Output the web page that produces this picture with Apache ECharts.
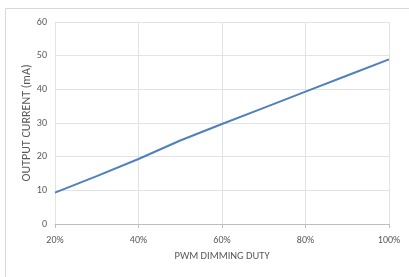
<!DOCTYPE html>
<html>
<head>
<meta charset="utf-8">
<script src="https://cdn.jsdelivr.net/npm/echarts@6/dist/echarts.min.js"></script>
<style>
  html, body { margin: 0; padding: 0; background: #fff; }
  #chart { width: 409px; height: 277px; }
</style>
</head>
<body>
<div id="chart"></div>
<script>
// PWM duty (%) and output current (mA)
const duty = [20, 30, 40, 50, 60, 70, 80, 90, 100];
const current = [9.3, 14.2, 19.3, 24.8, 29.7, 34.5, 39.3, 44.1, 48.9];
const dutyTicks = [20, 40, 60, 80, 100];

const chart = echarts.init(document.getElementById('chart'));
const textColor = '#595959';
const font = 'Carlito, "Liberation Sans", "Open Sans", sans-serif';

const option = {
  animation: false,
  graphic: [
    {
      // chart frame
      type: 'rect',
      shape: { x: 5.5, y: 8.5, width: 420, height: 300 },
      style: { fill: 'none', stroke: '#d9d9d9', lineWidth: 1 },
      silent: true,
    },
  ],
  grid: { left: 55, right: 20, top: 22, bottom: 53 },
  xAxis: {
    type: 'value',
    min: dutyTicks[0],
    max: dutyTicks[dutyTicks.length - 1],
    interval: 20,
    name: 'PWM DIMMING DUTY',
    nameLocation: 'middle',
    nameGap: 27,
    nameMoveOverlap: false,
    nameTextStyle: { color: textColor, fontSize: 10.5, fontFamily: font },
    axisLine: { show: true, lineStyle: { color: '#bfbfbf' } },
    axisTick: { show: true, length: 4, lineStyle: { color: '#bfbfbf' } },
    axisLabel: { color: textColor, fontSize: 10, fontFamily: font, margin: 11, formatter: '{value}%' },
    splitLine: { show: true, lineStyle: { color: '#e3e3e3' } },
  },
  yAxis: {
    type: 'value',
    min: 0,
    max: 60,
    interval: 10,
    name: 'OUTPUT CURRENT (mA)',
    nameLocation: 'middle',
    nameGap: 22,
    nameRotate: 90,
    nameMoveOverlap: false,
    nameTextStyle: { color: textColor, fontSize: 12, fontFamily: font },
    axisLine: { show: false },
    axisTick: { show: false },
    axisLabel: { color: textColor, fontSize: 10, fontFamily: font, margin: 8 },
    splitLine: { show: true, lineStyle: { color: '#e3e3e3' } },
  },
  series: [
    {
      type: 'line',
      data: duty.map((d, i) => [d, current[i]]),
      showSymbol: false,
      symbol: 'none',
      lineStyle: { color: '#4f81bd', width: 2 },
    },
  ],
};

chart.setOption(option);
</script>
</body>
</html>
